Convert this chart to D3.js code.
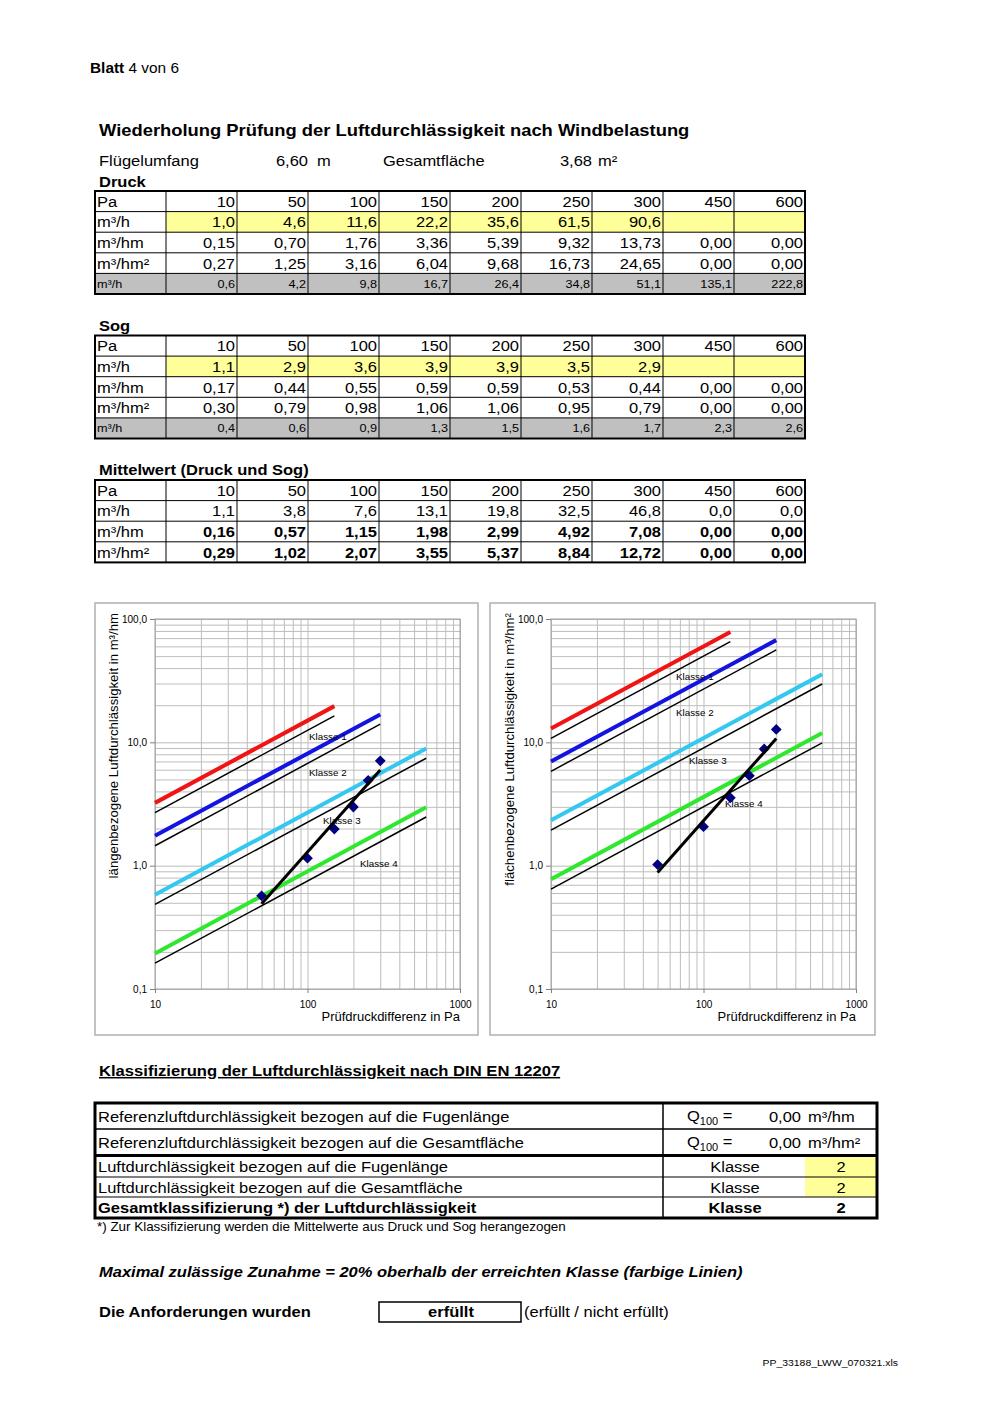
<!DOCTYPE html>
<html>
<head>
<meta charset="utf-8">
<script src="https://cdn.jsdelivr.net/npm/d3@7"></script>
<style>
  body { margin: 0; background: #fff; }
  svg { display: block; }
  text { font-family: "Liberation Sans", Arial, sans-serif; fill: #000; }
</style>
</head>
<body>
<svg width="991" height="1403"></svg>
<script>
// ---- data ----
const pressures = [10, 50, 100, 150, 200, 250, 300, 450, 600];

const druckM3h = [1.0, 4.6, 11.6, 22.2, 35.6, 61.5, 90.6, null, null];
const druckM3hm = [0.15, 0.70, 1.76, 3.36, 5.39, 9.32, 13.73, 0, 0];
const druckM3hm2 = [0.27, 1.25, 3.16, 6.04, 9.68, 16.73, 24.65, 0, 0];
const druckGray = [0.6, 4.2, 9.8, 16.7, 26.4, 34.8, 51.1, 135.1, 222.8];

const sogM3h = [1.1, 2.9, 3.6, 3.9, 3.9, 3.5, 2.9, null, null];
const sogM3hm = [0.17, 0.44, 0.55, 0.59, 0.59, 0.53, 0.44, 0, 0];
const sogM3hm2 = [0.30, 0.79, 0.98, 1.06, 1.06, 0.95, 0.79, 0, 0];
const sogGray = [0.4, 0.6, 0.9, 1.3, 1.5, 1.6, 1.7, 2.3, 2.6];

const mittelM3h = [1.1, 3.8, 7.6, 13.1, 19.8, 32.5, 46.8, 0.0, 0.0];
const mittelM3hm = [0.16, 0.57, 1.15, 1.98, 2.99, 4.92, 7.08, 0, 0];
const mittelM3hm2 = [0.29, 1.02, 2.07, 3.55, 5.37, 8.84, 12.72, 0, 0];

// pressures used in the charts
const chartPa = [50, 100, 150, 200, 250, 300];

// class lines: value at 10 Pa and at end pressure
const classNames = ["Klasse 1", "Klasse 2", "Klasse 3", "Klasse 4"];
const classEndPa = [150, 300, 600, 600];
const limitHmStart = [2.69, 1.45, 0.485, 0.162];
const limitHmEnd = [16.38, 14.04, 7.43, 2.48];
const upperHmStart = [3.23, 1.75, 0.58, 0.194];
const upperHmEnd = [19.66, 16.85, 8.92, 2.97];
const limitHm2Start = [10.77, 5.82, 1.94, 0.646];
const limitHm2End = [65.5, 56.2, 29.7, 9.91];
const upperHm2Start = [12.93, 6.98, 2.33, 0.776];
const upperHm2End = [78.6, 67.4, 35.7, 11.9];

const classColors = ["#f01414", "#1414e0", "#33c8f0", "#2ee82e"];

// ---- setup ----
const svg = d3.select("svg");
const SX = 1.1;
const FONT = "'Liberation Sans', Arial, sans-serif";
const YELLOW = "#ffff99";
const GRAY = "#c0c0c0";

const de = d3.formatLocale({ decimal: ",", thousands: ".", grouping: [3], currency: ["", " €"] });
const f0 = d3.format("d");
const f1 = de.format(".1f");
const f2 = de.format(".2f");

// stretched text like the excel print
const txt = (parent, x, y, s, o = {}) => {
  const t = parent.append("text")
    .attr("transform", `translate(${x},${y}) scale(${o.sx || SX},1)`)
    .attr("font-size", o.size || 15)
    .attr("font-weight", o.bold ? "bold" : null)
    .attr("font-style", o.italic ? "italic" : null)
    .attr("text-anchor", o.anchor || "start")
    .text(s);
  return t;
};

// ---- header ----
const head = svg.append("text")
  .attr("transform", `translate(90,73) scale(${SX},1)`)
  .attr("font-size", 14);
head.append("tspan").attr("font-weight", "bold").text("Blatt");
head.append("tspan").text(" 4 von 6");

txt(svg, 99, 136, "Wiederholung Prüfung der Luftdurchlässigkeit nach Windbelastung", { size: 16.7, bold: true });

txt(svg, 99, 166, "Flügelumfang", { size: 15 });
txt(svg, 308, 166, "6,60", { size: 15, anchor: "end" });
txt(svg, 317, 166, "m", { size: 15 });
txt(svg, 383, 166, "Gesamtfläche", { size: 15 });
txt(svg, 592, 166, "3,68", { size: 15, anchor: "end" });
txt(svg, 598, 166, "m²", { size: 15 });

// ---- tables ----
const tableX = 95, labelW = 71, colW = 71, rowH = 20.6;
const tableW = labelW + colW * pressures.length;

function drawTable(top, rows) {
  const g = svg.append("g");
  const rg = g.selectAll("g.row").data(rows).join("g")
    .attr("class", "row")
    .attr("transform", (d, i) => `translate(${tableX},${top + i * rowH})`);

  rg.filter(d => d.fill === "gray").append("rect")
    .attr("width", tableW).attr("height", rowH).attr("fill", GRAY);
  rg.filter(d => d.fill === "yellow").append("rect")
    .attr("x", labelW).attr("width", colW * pressures.length).attr("height", rowH).attr("fill", YELLOW);

  rg.each(function (d) {
    const r = d3.select(this);
    const size = d.small ? 11.5 : 15;
    const base = d.small ? 14.5 : 15.8;
    txt(r, 2, base, d.label, { size });
    d.values.forEach((v, i) => {
      if (v == null) return;
      txt(r, labelW + colW * (i + 1) - 2, base, d.fmt(v), { size, anchor: "end", bold: d.bold });
    });
  });

  const h = rows.length * rowH;
  g.selectAll("line.h").data(d3.range(1, rows.length)).join("line")
    .attr("x1", tableX).attr("x2", tableX + tableW)
    .attr("y1", i => top + i * rowH).attr("y2", i => top + i * rowH)
    .attr("stroke", "#000").attr("stroke-width", 1);
  g.selectAll("line.v").data(d3.range(0, pressures.length)).join("line")
    .attr("x1", i => tableX + labelW + i * colW).attr("x2", i => tableX + labelW + i * colW)
    .attr("y1", top).attr("y2", top + h)
    .attr("stroke", "#000").attr("stroke-width", 1);
  g.append("rect")
    .attr("x", tableX).attr("y", top).attr("width", tableW).attr("height", h)
    .attr("fill", "none").attr("stroke", "#000").attr("stroke-width", 2);
}

txt(svg, 99, 187, "Druck", { size: 15, bold: true });
drawTable(191, [
  { label: "Pa", values: pressures, fmt: f0 },
  { label: "m³/h", values: druckM3h, fmt: f1, fill: "yellow" },
  { label: "m³/hm", values: druckM3hm, fmt: f2 },
  { label: "m³/hm²", values: druckM3hm2, fmt: f2 },
  { label: "m³/h", values: druckGray, fmt: f1, fill: "gray", small: true }
]);

txt(svg, 99, 331, "Sog", { size: 15, bold: true });
drawTable(335.5, [
  { label: "Pa", values: pressures, fmt: f0 },
  { label: "m³/h", values: sogM3h, fmt: f1, fill: "yellow" },
  { label: "m³/hm", values: sogM3hm, fmt: f2 },
  { label: "m³/hm²", values: sogM3hm2, fmt: f2 },
  { label: "m³/h", values: sogGray, fmt: f1, fill: "gray", small: true }
]);

txt(svg, 99, 475, "Mittelwert (Druck und Sog)", { size: 15, bold: true });
drawTable(480, [
  { label: "Pa", values: pressures, fmt: f0 },
  { label: "m³/h", values: mittelM3h, fmt: f1 },
  { label: "m³/hm", values: mittelM3hm, fmt: f2, bold: true },
  { label: "m³/hm²", values: mittelM3hm2, fmt: f2, bold: true }
]);

// ---- charts ----
function drawChart(cfg) {
  const g = svg.append("g");
  g.append("rect")
    .attr("x", cfg.frame[0]).attr("y", cfg.frame[1])
    .attr("width", cfg.frame[2]).attr("height", cfg.frame[3])
    .attr("fill", "#fff").attr("stroke", "#b0b0b0").attr("stroke-width", 1.5);

  const [L, T, R, B] = cfg.plot;
  const x = d3.scaleLog().domain([10, 1000]).range([L, R]);
  const y = d3.scaleLog().domain([0.1, 100]).range([B, T]);

  // grid via axes
  const gx = g.append("g").attr("transform", `translate(0,${B})`)
    .call(d3.axisBottom(x).tickValues(x.ticks()).tickSize(-(B - T)).tickFormat(""));
  const gy = g.append("g").attr("transform", `translate(${L},0)`)
    .call(d3.axisLeft(y).tickValues(y.ticks()).tickSize(-(R - L)).tickFormat(""));
  [gx, gy].forEach(a => {
    a.select(".domain").remove();
    a.selectAll("line").attr("stroke", "#bdbdbd").attr("stroke-width", 1);
  });
  g.append("rect").attr("x", L).attr("y", T).attr("width", R - L).attr("height", B - T)
    .attr("fill", "none").attr("stroke", "#a0a0a0").attr("stroke-width", 1);

  // axis labels
  const ax = g.append("g").attr("transform", `translate(0,${B})`)
    .call(d3.axisBottom(x).tickValues([10, 100, 1000]).tickFormat(f0).tickSize(4).tickPadding(8));
  const ay = g.append("g").attr("transform", `translate(${L},0)`)
    .call(d3.axisLeft(y).tickValues([0.1, 1, 10, 100]).tickFormat(f1).tickSize(5).tickPadding(3));
  [ax, ay].forEach(a => {
    a.select(".domain").remove();
    a.selectAll("line").attr("stroke", "#808080");
    a.selectAll("text").attr("font-family", FONT).attr("font-size", 10).attr("fill", "#000");
  });

  g.append("text").attr("x", R).attr("y", B + 32).attr("text-anchor", "end")
    .attr("font-size", 13).text("Prüfdruckdifferenz in Pa");
  g.append("text")
    .attr("transform", `translate(${cfg.titleX},${T - 6}) rotate(-90)`)
    .attr("text-anchor", "end").attr("font-size", 13.2)
    .text(cfg.yTitle);

  // class lines
  const line = d3.line().x(d => x(d[0])).y(d => y(d[1]));
  classNames.forEach((c, i) => {
    g.append("path")
      .attr("d", line([[10, cfg.upperStart[i]], [classEndPa[i], cfg.upperEnd[i]]]))
      .attr("stroke", classColors[i]).attr("stroke-width", 4).attr("fill", "none");
    g.append("path")
      .attr("d", line([[10, cfg.limitStart[i]], [classEndPa[i], cfg.limitEnd[i]]]))
      .attr("stroke", "#000").attr("stroke-width", 1.5).attr("fill", "none");
  });

  g.selectAll("text.klasse").data(classNames).join("text")
    .attr("class", "klasse")
    .attr("x", (d, i) => L + cfg.labelPos[i][0])
    .attr("y", (d, i) => T + cfg.labelPos[i][1])
    .attr("font-size", 9.8)
    .text(d => d);

  // measured points
  const pts = chartPa.map(p => [p, cfg.values[pressures.indexOf(p)]]);
  g.selectAll("path.pt").data(pts).join("path")
    .attr("class", "pt")
    .attr("transform", d => `translate(${x(d[0])},${y(d[1])}) rotate(45)`)
    .attr("d", d3.symbol(d3.symbolSquare).size(58))
    .attr("fill", "#000080");

  // power trendline (least squares in log-log)
  const lx = pts.map(d => Math.log10(d[0])), ly = pts.map(d => Math.log10(d[1]));
  const mx = d3.mean(lx), my = d3.mean(ly);
  const slope = d3.sum(lx, (v, i) => (v - mx) * (ly[i] - my)) / d3.sum(lx, v => (v - mx) ** 2);
  const fit = p => Math.pow(10, my + slope * (Math.log10(p) - mx));
  const ends = d3.extent(chartPa);
  g.append("path")
    .attr("d", line(ends.map(p => [p, fit(p)])))
    .attr("stroke", "#000").attr("stroke-width", 3).attr("fill", "none");
}

drawChart({
  frame: [95, 603, 383, 432],
  plot: [155, 619, 460, 989],
  titleX: 118,
  yTitle: "längenbezogene Luftdurchlässigkeit in m³/hm",
  values: mittelM3hm,
  limitStart: limitHmStart, limitEnd: limitHmEnd,
  upperStart: upperHmStart, upperEnd: upperHmEnd,
  labelPos: [[154, 121], [154, 157], [168, 205], [205, 248]]
});

drawChart({
  frame: [490, 603, 385, 432],
  plot: [551, 619, 856, 989],
  titleX: 514,
  yTitle: "flächenbezogene Luftdurchlässigkeit in m³/hm²",
  values: mittelM3hm2,
  limitStart: limitHm2Start, limitEnd: limitHm2End,
  upperStart: upperHm2Start, upperEnd: upperHm2End,
  labelPos: [[125, 61], [125, 97], [138, 145], [174, 188]]
});

// ---- classification ----
txt(svg, 99, 1076, "Klassifizierung der Luftdurchlässigkeit nach DIN EN 12207", { size: 15.1, bold: true })
  .attr("text-decoration", "underline");

const klassRows = [
  { y0: 1103, y1: 1129, label: "Referenzluftdurchlässigkeit bezogen auf die Fugenlänge", q: "0,00", unit: "m³/hm" },
  { y0: 1129, y1: 1155.5, label: "Referenzluftdurchlässigkeit bezogen auf die Gesamtfläche", q: "0,00", unit: "m³/hm²" },
  { y0: 1155.5, y1: 1177, label: "Luftdurchlässigkeit bezogen auf die Fugenlänge", klasse: 2, fill: true },
  { y0: 1177, y1: 1197, label: "Luftdurchlässigkeit bezogen auf die Gesamtfläche", klasse: 2, fill: true },
  { y0: 1197, y1: 1218, label: "Gesamtklassifizierung *) der Luftdurchlässigkeit", klasse: 2, bold: true }
];
const kg = svg.append("g");
kg.selectAll("rect.fill").data(klassRows.filter(d => d.fill)).join("rect")
  .attr("x", 805).attr("y", d => d.y0).attr("width", 72).attr("height", d => d.y1 - d.y0)
  .attr("fill", YELLOW);
klassRows.forEach(d => {
  const base = (d.y0 + d.y1) / 2 + 5.5;
  txt(kg, 98, base, d.label, { size: 15, bold: d.bold });
  if (d.q) {
    const t = kg.append("text")
      .attr("transform", `translate(687,${base - 1}) scale(${SX},1)`)
      .attr("font-size", 15);
    t.append("tspan").text("Q");
    t.append("tspan").attr("font-size", 10).attr("dy", 4).text("100");
    t.append("tspan").attr("dy", -4).text(" =");
    txt(kg, 801, base, d.q, { size: 15, anchor: "end" });
    txt(kg, 808, base, d.unit, { size: 15 });
  } else {
    txt(kg, 735, base, "Klasse", { size: 15, anchor: "middle", bold: d.bold });
    txt(kg, 841, base, f0(d.klasse), { size: 15, anchor: "middle", bold: d.bold });
  }
});
[[1129, 1.5], [1155.5, 3], [1177, 1.2], [1197, 1.2]].forEach(([yy, w]) => {
  kg.append("line").attr("x1", 95).attr("x2", 877).attr("y1", yy).attr("y2", yy)
    .attr("stroke", "#000").attr("stroke-width", w);
});
kg.append("line").attr("x1", 663).attr("x2", 663).attr("y1", 1103).attr("y2", 1218)
  .attr("stroke", "#000").attr("stroke-width", 1.5);
kg.append("rect").attr("x", 95).attr("y", 1103).attr("width", 782).attr("height", 115)
  .attr("fill", "none").attr("stroke", "#000").attr("stroke-width", 3);

txt(svg, 97, 1231, "*) Zur Klassifizierung werden die Mittelwerte aus Druck und Sog herangezogen", { size: 12.2 });
txt(svg, 99, 1277, "Maximal zulässige Zunahme = 20% oberhalb der erreichten Klasse (farbige Linien)", { size: 15, bold: true, italic: true });

txt(svg, 99, 1317, "Die Anforderungen wurden", { size: 15, bold: true });
svg.append("rect").attr("x", 379).attr("y", 1302).attr("width", 142).attr("height", 20)
  .attr("fill", "none").attr("stroke", "#000").attr("stroke-width", 1.5);
txt(svg, 451, 1317, "erfüllt", { size: 15, bold: true, anchor: "middle" });
txt(svg, 524, 1317, "(erfüllt / nicht erfüllt)", { size: 15 });

txt(svg, 898, 1366, "PP_33188_LWW_070321.xls", { size: 9.5, anchor: "end" });
</script>
</body>
</html>
